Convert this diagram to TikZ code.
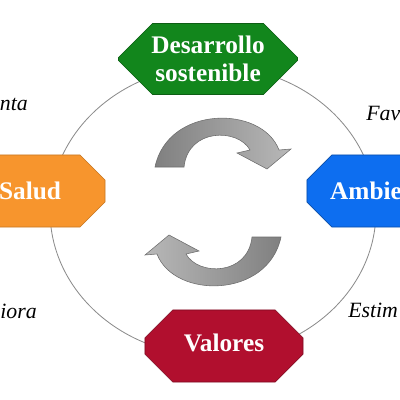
\documentclass[tikz,border=0pt]{standalone}
\usepackage{fontspec}
\setmainfont{Liberation Serif}
\usetikzlibrary{positioning,shapes.misc}
\definecolor{desgreen}{HTML}{12861C}
\definecolor{salorange}{HTML}{F7952D}
\definecolor{ambblue}{HTML}{0D6EF0}
\definecolor{valred}{HTML}{B10F2E}
\definecolor{ringgray}{HTML}{8C8C8C}
\definecolor{arrowdark}{HTML}{808080}
\definecolor{arrowlight}{HTML}{B8B8B8}

\begin{document}
\begin{tikzpicture}[x=0.025cm, y=-0.025cm,
  every node/.style={font=\fontsize{18}{20}\selectfont\bfseries},
  cyclebox/.style={
    chamfered rectangle, chamfered rectangle xsep=0.45cm,
    chamfered rectangle ysep=0.4cm, inner sep=0pt,
    minimum height=1.8cm, text=white, align=center,
  },
  verblabel/.style={font=\fontsize{15.5}{18}\selectfont\itshape, inner sep=0pt},
  ring/.style={draw=ringgray, line width=0.6pt},
  turnarrow/.style={draw=arrowdark!85!black, line width=0.4pt},
]
  \useasboundingbox (0,0) rectangle (400,400);
  \clip (0,0) rectangle (400,400);

  % the cycle behind the boxes
  \draw[ring] (213,211) ellipse [x radius=163, y radius=145];

  \node[cyclebox, fill=desgreen, draw=desgreen!70!black, inner ysep=-0.1cm,
        minimum width=4.475cm, minimum height=1.775cm] (desarrollo) at (208,59) {Desarrollo\\sostenible};
  \node[cyclebox, fill=salorange, draw=salorange!80!black,
        minimum width=3.75cm] (salud) at (30,191) {Salud};
  \node[cyclebox, fill=ambblue, draw=ambblue!70!black,
        minimum width=2.95cm] (ambiente) at (366,191) {Ambie};
  \node[cyclebox, fill=valred, draw=valred!70!black,
        minimum width=3.95cm] (valores) at (224,346) {\raisebox{0.15cm}{Valores}};

  \node[verblabel, anchor=east] (vtl) at (28,104) {nta};
  \node[verblabel, anchor=west] (vtr) at (366,113) {Fav};
  \node[verblabel, anchor=east] (vbl) at (37,311) {iora};
  \node[verblabel, anchor=west] (vbr) at (348,310) {Estim};

  % turning arrows in the middle
  \path[turnarrow, left color=arrowdark, right color=arrowlight]
    (155,167) -- (184,167)
    .. controls (188,128) and (238,128) .. (250,150)
    -- (237,153) -- (267,169) -- (291,149) -- (279,150)
    .. controls (262,105) and (168,105) .. (155,167) -- cycle;
  \begin{scope}[rotate around={180:(218,202)}]
    \path[turnarrow, left color=arrowlight, right color=arrowdark]
      (155,167) -- (184,167)
      .. controls (188,128) and (238,128) .. (250,150)
      -- (237,153) -- (267,169) -- (291,149) -- (279,150)
      .. controls (262,105) and (168,105) .. (155,167) -- cycle;
  \end{scope}
\end{tikzpicture}
\end{document}
